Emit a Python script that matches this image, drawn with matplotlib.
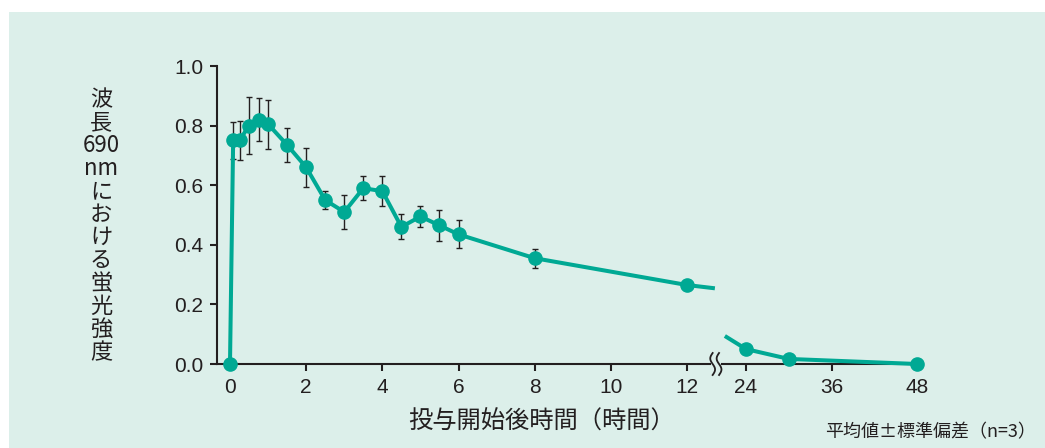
import numpy as np
import matplotlib
matplotlib.use("Agg")
import matplotlib.pyplot as plt
from matplotlib.patches import Rectangle
from matplotlib.lines import Line2D
from matplotlib.transforms import IdentityTransform

# --- data -----------------------------------------------------------------
hours = [0, 0.083, 0.25, 0.5, 0.75, 1, 1.5, 2, 2.5, 3, 3.5, 4, 4.5, 5, 5.5,
         6, 8, 12, 24, 30, 48]
intensity = [0.0, 0.75, 0.75, 0.80, 0.82, 0.805, 0.735, 0.66, 0.55, 0.51,
             0.59, 0.58, 0.46, 0.495, 0.465, 0.435, 0.355, 0.265, 0.05,
             0.017, 0.0]
sd = [0, 0.063, 0.067, 0.095, 0.072, 0.082, 0.056, 0.066, 0.03, 0.057,
      0.04, 0.05, 0.042, 0.036, 0.052, 0.047, 0.032, 0, 0, 0, 0]

# line stubs on either side of the axis break (hours, intensity)
stub_before = ([12, 17.66], [0.265, 0.254])
stub_after = ([19.69, 24], [0.094, 0.05])

xticks = [0, 2, 4, 6, 8, 10, 12, 24, 36, 48]
yticks = [0.0, 0.2, 0.4, 0.6, 0.8, 1.0]

ylabel_lines = ["波", "長", "690", "nm", "に", "お", "け", "る", "蛍", "光", "強", "度"]
xlabel = "投与開始後時間（時間）"
note = "平均値±標準偏差（n=3）"

# --- style ----------------------------------------------------------------
BG = "#dcefea"
TEAL = "#00a994"
INK = "#231f20"
JP = ["Noto Sans CJK JP", "DejaVu Sans"]
NUM = ["Liberation Sans", "DejaVu Sans"]

# broken time axis: 0-12 h linear, then a gap, then a compressed 24-48 h part
G = 1.549   # width of the gap between 12 h and 24 h (axis units)
K = 0.187   # compression factor beyond 24 h


def fwd(t):
    t = np.asarray(t, dtype=float)
    return np.where(t <= 12, t,
                    np.where(t <= 24, 12 + (t - 12) * G / 12,
                             12 + G + (t - 24) * K))


def inv(u):
    u = np.asarray(u, dtype=float)
    return np.where(u <= 12, u,
                    np.where(u <= 12 + G, 12 + (u - 12) * 12 / G,
                             24 + (u - 12 - G) / K))


fig = plt.figure(figsize=(10.45, 4.48), dpi=100)
fig.patch.set_facecolor("white")
fig.add_artist(Rectangle((9 / 1045, 0), 1 - 9 / 1045, (448 - 12) / 448,
                         transform=fig.transFigure, facecolor=BG,
                         edgecolor="none", zorder=-10))

ax = fig.add_axes([217 / 1045, 84 / 448, 700 / 1045, 298 / 448])
ax.set_facecolor("none")
ax.set_xscale("function", functions=(fwd, inv))
ax.set_xlim(-0.341, 48)
ax.set_ylim(0, 1.0)

# error bars (only where a spread was measured)
h = np.array(hours, dtype=float)
v = np.array(intensity)
e = np.array(sd)
m = e > 0
ax.errorbar(h[m], v[m], yerr=e[m], fmt="none", ecolor=INK, elinewidth=1.0,
            capsize=2.3, capthick=1.0, zorder=2)

# series, split at the break
first = h <= 12
ax.plot(h[first], v[first], color=TEAL, lw=2.9, marker="o", ms=9.5,
        zorder=3, clip_on=False)
ax.plot(h[~first], v[~first], color=TEAL, lw=2.9, marker="o", ms=9.5,
        zorder=3, clip_on=False)
ax.plot(*stub_before, color=TEAL, lw=2.9, zorder=3, solid_capstyle="butt")
ax.plot(*stub_after, color=TEAL, lw=2.9, zorder=3, solid_capstyle="butt")

# spines
for s in ("top", "right", "bottom"):
    ax.spines[s].set_visible(False)
ax.spines["left"].set_linewidth(1.5)
ax.spines["left"].set_color(INK)

gap_lo, gap_hi = float(inv(12.598)), float(inv(12.913))
xt = ax.get_xaxis_transform()
ax.plot([-0.341, gap_lo], [0, 0], color=INK, lw=1.5, transform=xt,
        clip_on=False, zorder=1, solid_capstyle="projecting")
ax.plot([gap_hi, 48], [0, 0], color=INK, lw=1.5, transform=xt,
        clip_on=False, zorder=1)

ax.set_xticks(xticks)
ax.set_xticklabels([str(t) for t in xticks])
ax.set_yticks(yticks)
ax.set_yticklabels([f"{y:.1f}" for y in yticks])
ax.xaxis.set_minor_locator(matplotlib.ticker.NullLocator())
ax.tick_params(axis="both", direction="out", length=5, width=1.5,
               color=INK, labelcolor=INK, labelsize=15, pad=5)
for lab in ax.get_xticklabels() + ax.get_yticklabels():
    lab.set_family(NUM)

# break symbol on the time axis (two wavy strokes)
bx, by = ax.transData.transform((float(inv(12.756)), 0.0))
s = np.linspace(-1, 1, 60)
for dx in (-3.2, 3.2):
    xs = bx + dx + 2.4 * np.sin(np.pi * s)
    ys = by - 11 * s
    fig.add_artist(Line2D(xs, ys, transform=IdentityTransform(), color=INK,
                          lw=1.3, zorder=5))

# vertical axis title, one glyph group per row
top_y = 99.5
pitch = 23.0
for i, txt in enumerate(ylabel_lines):
    fig.text(101 / 1045, 1 - (top_y + i * pitch) / 448, txt, ha="center",
             va="center", fontsize=16, family=JP, color=INK)

fig.text(542 / 1045, 1 - 422 / 448, xlabel, ha="center", va="center",
         fontsize=17.5, family=JP, color=INK)
fig.text(1036 / 1045, 1 - 432 / 448, note, ha="right", va="center",
         fontsize=13, family=JP, color=INK)

fig.savefig("out.png", dpi=100)
